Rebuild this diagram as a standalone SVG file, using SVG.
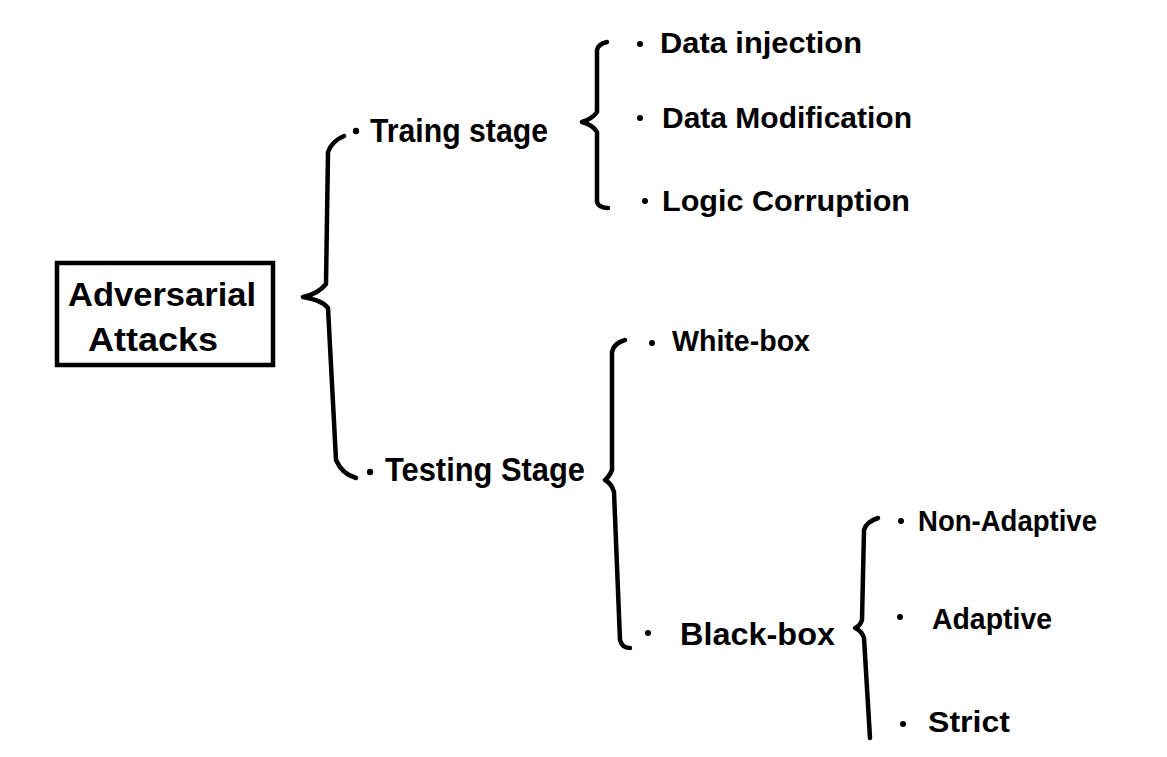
<svg xmlns="http://www.w3.org/2000/svg" width="1167" height="757" viewBox="0 0 1167 757">
<style>
.t{font-family:"Liberation Sans",Arial,sans-serif;font-weight:bold;fill:#000;}
.b{fill:none;stroke:#000;stroke-width:4.5;stroke-linecap:round;stroke-linejoin:round;}
.d{fill:#000;}
</style>
<rect width="1167" height="757" fill="#fff"/>
<g id="root">
<rect x="57" y="263" width="216" height="102" fill="none" stroke="#000" stroke-width="4.5"/>
<text class="t" x="68" y="306" font-size="33" textLength="188" lengthAdjust="spacingAndGlyphs">Adversarial</text>
<text class="t" x="88" y="351" font-size="33" textLength="130" lengthAdjust="spacingAndGlyphs">Attacks</text>
</g>
<g id="connectors">
<path class="b" d="M344,136 Q332,141 328,152 L326,284 Q318,294 303,297 Q322,300 328,308 L336,460 Q342,474 356,478"/>
<path class="b" d="M607,42 Q598,44 597,50 L597,112 Q592,119 582,122 Q593,125 597,132 L597,202 Q599,208 608,208"/>
<path class="b" d="M625,340 Q614,343 612,352 L612,470 Q609,477 605,480 Q612,484 614,492 L620,640 Q622,648 630,648"/>
<path class="b" d="M878,518 Q866,522 864,530 L862,620 Q860,626 855,628 Q862,631 864,638 L870,738"/>
</g>
<g id="training">
<circle class="d" cx="356" cy="131" r="3.2"/>
<text class="t" x="370" y="142" font-size="33" textLength="178" lengthAdjust="spacingAndGlyphs">Traing stage</text>
</g>
<g id="testing">
<circle class="d" cx="370" cy="472" r="3.2"/>
<text class="t" x="385" y="481" font-size="33" textLength="200" lengthAdjust="spacingAndGlyphs">Testing Stage</text>
</g>
<g id="data-injection">
<circle class="d" cx="640" cy="44" r="3"/>
<text class="t" x="660" y="53" font-size="29" textLength="202" lengthAdjust="spacingAndGlyphs">Data injection</text>
</g>
<g id="data-modification">
<circle class="d" cx="640" cy="118" r="3"/>
<text class="t" x="662" y="128" font-size="29" textLength="250" lengthAdjust="spacingAndGlyphs">Data Modification</text>
</g>
<g id="logic-corruption">
<circle class="d" cx="645" cy="201" r="3"/>
<text class="t" x="662" y="211" font-size="30" textLength="248" lengthAdjust="spacingAndGlyphs">Logic Corruption</text>
</g>
<g id="white-box">
<circle class="d" cx="652" cy="343" r="3"/>
<text class="t" x="672" y="351" font-size="30" textLength="138" lengthAdjust="spacingAndGlyphs">White-box</text>
</g>
<g id="black-box">
<circle class="d" cx="648" cy="633" r="3"/>
<text class="t" x="680" y="645" font-size="32" textLength="155" lengthAdjust="spacingAndGlyphs">Black-box</text>
</g>
<g id="non-adaptive">
<circle class="d" cx="901" cy="521" r="3"/>
<text class="t" x="918" y="531" font-size="30" textLength="179" lengthAdjust="spacingAndGlyphs">Non-Adaptive</text>
</g>
<g id="adaptive">
<circle class="d" cx="900" cy="617" r="3"/>
<text class="t" x="932" y="629" font-size="30" textLength="120" lengthAdjust="spacingAndGlyphs">Adaptive</text>
</g>
<g id="strict">
<circle class="d" cx="903" cy="724" r="3"/>
<text class="t" x="928" y="732" font-size="30" textLength="82" lengthAdjust="spacingAndGlyphs">Strict</text>
</g>
</svg>
